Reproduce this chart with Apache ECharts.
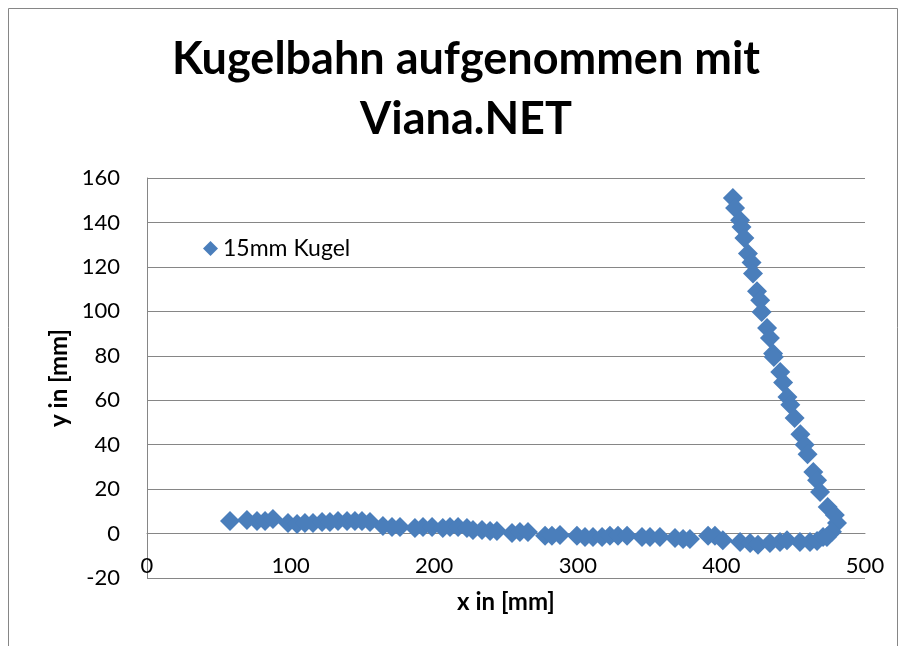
<!DOCTYPE html>
<html>
<head>
<meta charset="utf-8">
<script src="https://cdn.jsdelivr.net/npm/echarts@6/dist/echarts.min.js"></script>
<style>html,body{margin:0;padding:0;background:#fff}#c{width:905px;height:646px}</style>
</head>
<body>
<div id="c"></div>
<script>
const titleText = 'Kugelbahn aufgenommen mit\nViana.NET';
const seriesName = '15mm Kugel';
const xAxisName = 'x in [mm]';
const yAxisName = 'y in [mm]';
// horizontal part of the track
const xFlat = [57.8, 69.6, 76.6, 82.2, 87.7, 98.2, 104.5, 110, 115.6, 121.9, 127.4, 133, 139.3, 144.8, 149.7, 155.3,
  164.3, 170.6, 176.2, 186.6, 192.2, 198.5, 206, 211, 216.6, 222.8, 227, 233.3, 238.9, 243.7, 254.2, 259.7, 265.3,
  277.2, 282, 287.6, 299.4, 305, 310.6, 316.9, 322.4, 328, 334.3, 344.7, 350.3, 357.2, 367.7, 373.3, 378.1,
  390.7, 395.5, 401, 413, 420, 425.5, 433.8, 440.8, 445.7, 454.7, 461.7, 466.6, 470.8];
const yFlat = [5.7, 6.1, 5.7, 5.7, 6.6, 4.8, 4.3, 4.8, 4.8, 5.2, 5.2, 5.7, 5.7, 5.7, 5.7, 5.2,
  3.4, 3.0, 3.0, 2.5, 3.0, 3.0, 2.5, 3.0, 3.0, 2.5, 1.6, 1.6, 1.2, 1.2, 0.3, 0.7, 0.7,
  -1.0, -1.0, -0.6, -1.0, -1.5, -1.5, -1.5, -1.0, -1.0, -1.0, -1.5, -1.5, -1.5, -2.0, -2.5, -2.5,
  -1.0, -1.0, -3.0, -3.8, -4.3, -5.0, -4.3, -3.8, -3.0, -3.8, -3.8, -3.4, -1.5];
// steep part of the track
const xSteep = [408, 409.5, 413, 414, 416, 418.5, 421, 422, 424.8, 427, 428, 431.8, 433.8, 436,
  436.5, 441, 443, 446, 448, 451, 455, 458, 460, 464, 466.6, 468.7, 474, 479, 480.5, 477, 473.5];
const ySteep = [151, 146.5, 141, 138, 133, 126, 122, 117, 109, 105, 99.7, 92.5, 88, 81,
  79.5, 72.7, 68, 61.5, 58, 52, 44.7, 40, 35.7, 27.7, 24, 18.7, 12, 8.4, 4.8, 0.8, -1.5];
const xTicks = [0, 100, 200, 300, 400, 500];
const yTicks = [-20, 0, 20, 40, 60, 80, 100, 120, 140, 160];

const points = [];
xFlat.forEach((x, i) => points.push([x, yFlat[i]]));
xSteep.forEach((x, i) => points.push([x, ySteep[i]]));

const FONT = 'Lato';
const chart = echarts.init(document.getElementById('c'), null, {renderer: 'canvas'});
chart.setOption({
  animation: false,
  backgroundColor: '#fff',
  graphic: [{type: 'rect', shape: {x: 8.5, y: 8.5, width: 889, height: 700}, style: {fill: 'none', stroke: '#868686', lineWidth: 1}, z: -1}],
  title: {
    text: titleText, left: 461, top: 24, textAlign: 'center',
    textStyle: {fontFamily: FONT, fontWeight: 'bold', fontSize: 45, lineHeight: 60, color: '#000'}
  },
  legend: {
    left: 198, top: 232, icon: 'diamond', itemWidth: 15, itemHeight: 15, itemGap: 6,
    textStyle: {fontFamily: FONT, fontSize: 23, color: '#000'},
    data: [seriesName]
  },
  grid: {left: 147, right: 40, top: 178, bottom: 68, containLabel: false},
  xAxis: {
    type: 'value', min: xTicks[0], max: xTicks[xTicks.length - 1], interval: 100,
    name: xAxisName, nameLocation: 'middle', nameGap: 12,
    nameTextStyle: {fontFamily: FONT, fontWeight: 'bold', fontSize: 24, color: '#000', verticalAlign: 'top'},
    axisLine: {show: true, lineStyle: {color: '#868686', width: 1}},
    axisTick: {show: false},
    axisLabel: {inside: true, margin: 1, fontFamily: FONT, fontSize: 22, color: '#000'},
    splitLine: {show: false}
  },
  yAxis: {
    type: 'value', min: yTicks[0], max: yTicks[yTicks.length - 1], interval: 20,
    name: yAxisName, nameLocation: 'middle', nameGap: 76, nameRotate: 90,
    nameTextStyle: {fontFamily: FONT, fontWeight: 'bold', fontSize: 24, color: '#000'},
    axisLine: {show: true, lineStyle: {color: '#868686', width: 1}},
    axisTick: {show: false},
    axisLabel: {margin: 27, fontFamily: FONT, fontSize: 22, color: '#000'},
    splitLine: {show: true, lineStyle: {color: '#868686', width: 1}}
  },
  series: [{
    name: seriesName, type: 'scatter', symbol: 'diamond', symbolSize: 20,
    itemStyle: {color: '#4a7ebb', opacity: 1},
    data: points
  }]
});
</script>
</body>
</html>
